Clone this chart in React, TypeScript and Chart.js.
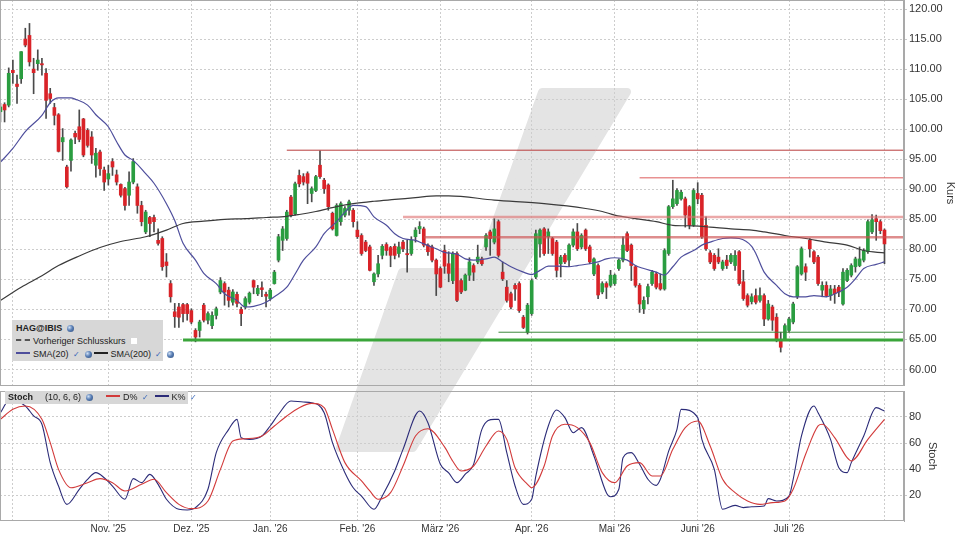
import { useEffect, useRef } from "react"
import { Chart, registerables } from "chart.js"

Chart.register(...registerables)

const FONT = "'Liberation Sans', Arial, sans-serif"

// daily candles, trading-day index 0 = 26.09.2025
const opens = [
  102.9, 104.1, 104.0, 109.8, 107.5, 108.4, 115.0, 115.6, 110.0, 110.9, 110.9, 109.3, 105.9, 103.6, 102.4, 97.9, 93.7, 94.8, 99.3, 100.4,
  101.7, 99.8, 98.7, 94.0, 96.2, 93.2, 91.7, 94.6, 92.4, 90.8, 90.1, 89.0, 91.2, 90.4, 87.3, 82.9, 85.3, 85.3, 81.5, 81.8,
  77.9, 74.3, 69.6, 70.4, 70.8, 70.8, 69.8, 66.5, 66.5, 70.7, 68.2, 67.3, 69.0, 72.9, 74.3, 73.2, 71.2, 72.5, 70.0, 70.4,
  71.2, 74.8, 72.6, 73.6, 72.5, 71.8, 74.3, 78.2, 81.5, 81.8, 88.7, 85.9, 92.3, 92.1, 92.6, 89.3, 89.8, 94.0, 91.5, 90.7,
  86.0, 82.3, 84.6, 85.7, 86.5, 86.5, 83.2, 82.3, 81.2, 80.4, 74.6, 75.9, 79.0, 80.8, 80.3, 80.5, 79.3, 81.2, 79.3, 79.3,
  82.1, 83.4, 83.4, 80.7, 80.4, 78.2, 76.8, 79.8, 77.6, 74.8, 79.3, 74.8, 73.2, 75.7, 77.3, 77.9, 78.4, 80.4, 82.9, 81.2,
  84.6, 76.2, 73.7, 72.6, 74.0, 74.3, 68.7, 66.2, 69.3, 75.4, 80.9, 83.4, 82.1, 81.8, 81.2, 77.6, 79.0, 78.2, 80.7, 82.9,
  80.4, 83.2, 80.4, 75.9, 77.3, 72.9, 74.3, 74.0, 74.3, 76.8, 78.2, 82.6, 80.7, 77.1, 74.0, 70.1, 72.1, 74.3, 75.9, 74.3,
  73.4, 79.3, 87.1, 87.6, 88.4, 88.4, 87.1, 84.0, 89.3, 89.0, 84.0, 79.4, 79.0, 78.7, 76.8, 78.2, 77.9, 77.3, 79.6, 74.6,
  72.3, 71.3, 72.3, 71.5, 72.3, 68.4, 70.4, 68.7, 64.8, 65.1, 66.5, 67.9, 72.1, 75.9, 77.1, 81.5, 79.6, 78.7, 73.2, 74.0,
  72.3, 73.4, 73.7, 70.9, 74.8, 75.7, 77.1, 77.3, 78.2, 79.6, 82.9, 85.1, 84.6, 83.2,
]
const highs = [
  104.3, 104.4, 110.2, 111.5, 109.0, 112.9, 116.8, 117.6, 111.8, 113.2, 111.8, 110.1, 106.8, 104.3, 102.6, 100.1, 94.0, 98.4, 99.7, 103.2,
  101.8, 100.1, 99.6, 96.8, 96.5, 93.7, 94.0, 95.1, 93.2, 90.9, 90.3, 92.9, 95.1, 90.9, 88.0, 86.5, 85.5, 85.7, 83.4, 82.1,
  79.3, 74.8, 71.0, 71.0, 71.0, 71.0, 70.1, 66.8, 68.2, 71.0, 69.6, 69.6, 70.4, 75.3, 74.6, 73.7, 73.3, 72.9, 70.4, 72.1,
  72.9, 74.9, 74.0, 74.6, 72.9, 73.5, 76.5, 82.5, 83.8, 86.5, 89.0, 91.2, 93.2, 92.6, 92.9, 90.4, 92.3, 96.4, 91.8, 90.9,
  86.2, 87.6, 87.9, 87.1, 88.2, 86.8, 84.6, 82.6, 81.5, 80.7, 76.1, 79.0, 80.8, 81.1, 80.5, 80.9, 81.2, 81.5, 81.5, 82.1,
  83.6, 84.6, 83.7, 80.9, 80.7, 78.4, 77.1, 80.7, 79.6, 79.6, 79.6, 75.1, 75.9, 78.6, 77.6, 80.7, 78.7, 82.6, 83.2, 85.1,
  84.9, 77.9, 74.8, 72.9, 74.3, 74.6, 69.0, 71.0, 75.1, 83.2, 83.4, 83.6, 83.4, 82.0, 81.5, 79.0, 79.3, 80.9, 83.4, 84.3,
  82.6, 83.4, 80.7, 78.6, 77.6, 74.6, 74.6, 76.5, 75.9, 78.4, 82.1, 82.9, 80.9, 77.3, 74.3, 72.1, 74.2, 76.5, 76.2, 75.9,
  80.1, 87.3, 91.5, 90.1, 89.8, 88.7, 87.3, 90.1, 91.1, 89.3, 85.4, 79.8, 79.3, 80.1, 78.2, 79.0, 79.3, 79.8, 79.8, 76.5,
  72.6, 72.6, 73.4, 73.6, 72.6, 71.5, 70.7, 69.3, 66.2, 67.6, 68.7, 71.2, 77.3, 80.4, 77.6, 81.8, 79.8, 79.0, 74.6, 74.6,
  74.0, 74.0, 74.0, 76.8, 76.8, 77.6, 78.7, 80.4, 80.1, 84.9, 85.8, 85.7, 84.9, 83.4,
]
const lows = [
  101.2, 101.2, 103.7, 107.6, 104.3, 107.6, 113.7, 110.5, 105.9, 109.8, 109.0, 101.8, 104.3, 100.7, 96.2, 94.8, 90.2, 93.0, 97.6, 97.9,
  95.4, 97.0, 94.3, 92.0, 92.3, 89.8, 90.7, 92.3, 90.7, 88.7, 86.5, 87.3, 90.9, 86.0, 83.9, 82.6, 82.1, 82.9, 80.7, 76.5,
  75.4, 71.2, 67.0, 67.0, 67.9, 68.2, 67.6, 64.6, 65.4, 67.9, 67.6, 66.8, 68.4, 72.6, 70.7, 70.4, 70.7, 70.4, 67.3, 70.1,
  70.9, 72.6, 72.3, 72.1, 70.4, 71.5, 74.2, 77.9, 79.8, 81.5, 85.4, 85.7, 90.4, 90.7, 87.6, 87.9, 89.6, 91.8, 89.3, 86.5,
  83.2, 82.2, 84.0, 85.4, 85.7, 83.7, 81.8, 79.0, 79.6, 76.4, 74.0, 75.4, 78.4, 79.0, 77.1, 78.4, 78.7, 79.6, 76.2, 79.0,
  81.2, 82.6, 80.4, 79.0, 77.9, 72.3, 73.6, 76.0, 74.6, 74.3, 71.3, 72.6, 73.1, 74.8, 74.8, 77.6, 77.3, 79.8, 79.0, 80.9,
  78.7, 74.8, 71.2, 70.1, 71.5, 69.5, 66.8, 65.9, 69.0, 75.1, 78.7, 79.0, 79.3, 79.0, 75.4, 75.4, 77.6, 77.1, 80.4, 79.8,
  80.1, 79.8, 77.6, 75.6, 71.8, 72.6, 71.8, 73.7, 74.0, 76.5, 77.9, 79.6, 74.8, 73.7, 69.5, 69.3, 70.9, 74.0, 73.4, 73.2,
  73.2, 79.0, 86.8, 87.3, 88.2, 83.7, 83.4, 83.8, 87.6, 81.8, 79.8, 77.6, 76.5, 77.6, 76.5, 76.8, 77.6, 76.5, 74.0, 71.5,
  70.4, 70.9, 70.9, 71.2, 67.3, 68.2, 66.5, 64.6, 62.9, 64.8, 66.2, 67.6, 71.8, 75.7, 74.8, 78.7, 77.6, 74.0, 72.1, 72.1,
  71.5, 71.0, 72.1, 70.7, 74.6, 75.4, 76.2, 77.1, 77.9, 79.3, 82.6, 81.5, 82.6, 77.6,
]
const closes = [
  103.7, 103.2, 109.3, 109.4, 107.1, 112.9, 114.0, 111.2, 109.4, 111.5, 110.7, 104.8, 105.1, 102.3, 96.3, 98.6, 90.4, 98.2, 98.7, 98.3,
  95.7, 97.3, 95.7, 96.0, 93.4, 91.2, 92.6, 93.7, 91.2, 89.0, 87.3, 91.2, 94.6, 87.3, 84.6, 86.2, 84.3, 84.6, 81.0, 77.1,
  77.3, 72.1, 68.8, 68.7, 69.3, 69.3, 67.9, 65.4, 67.9, 68.2, 69.3, 69.0, 70.1, 74.8, 72.9, 71.5, 72.9, 71.0, 69.3, 71.8,
  72.7, 73.7, 73.5, 73.3, 72.2, 73.2, 76.2, 82.1, 83.4, 86.2, 85.7, 90.9, 90.9, 91.2, 91.0, 90.1, 92.1, 92.1, 90.1, 87.1,
  83.4, 87.3, 87.6, 86.8, 87.9, 84.6, 82.1, 79.3, 79.8, 76.5, 75.9, 77.6, 80.5, 79.8, 79.0, 79.0, 80.4, 80.1, 79.1, 81.5,
  83.2, 83.8, 80.7, 79.6, 78.2, 75.9, 73.7, 77.2, 76.0, 79.3, 71.5, 72.9, 75.7, 77.9, 76.2, 78.7, 77.6, 82.3, 81.8, 83.4,
  79.0, 75.1, 71.5, 70.4, 73.4, 69.8, 67.0, 70.7, 74.8, 82.6, 83.2, 79.3, 82.9, 79.3, 76.5, 78.7, 77.9, 80.7, 82.9, 80.1,
  82.3, 80.1, 77.9, 78.4, 72.4, 74.3, 73.7, 75.7, 75.7, 78.2, 80.7, 79.8, 77.3, 74.0, 70.9, 71.5, 73.8, 76.2, 73.7, 73.4,
  79.8, 87.1, 88.4, 89.8, 89.5, 85.7, 84.0, 89.8, 88.4, 82.1, 80.1, 77.9, 76.8, 77.9, 77.9, 77.3, 79.0, 79.0, 74.3, 71.8,
  70.7, 72.1, 71.2, 72.3, 68.4, 70.9, 68.2, 64.8, 63.7, 67.3, 68.4, 70.9, 77.1, 80.1, 76.2, 80.1, 77.9, 74.3, 74.0, 72.3,
  73.4, 72.6, 72.9, 76.2, 76.5, 77.3, 78.4, 78.4, 79.8, 84.6, 84.9, 84.6, 83.1, 80.9,
]

// moving averages, read at sample days
const sma20Idx = [
  0, 3, 6, 10, 12, 14, 17, 18, 21, 23, 26, 28, 30, 32, 35, 37, 40, 42, 44, 47, 49, 52, 54, 57, 59, 61, 64, 66, 69, 71,
  73, 76, 78, 81, 83, 85, 88, 90, 93, 95, 97, 100, 102, 105, 107, 110, 112, 114, 117, 119, 121, 123, 126, 128, 130, 132, 134, 137, 139, 142,
  144, 146, 148, 151, 153, 155, 158, 160, 162, 164, 167, 169, 171, 174, 176, 178, 181, 182, 184, 187, 189, 191, 194, 196, 199, 201, 204, 206, 208, 211, 213,
]
const sma20 = [
  94.5, 96.8, 99.6, 102.3, 104.4, 105.2, 105.2, 105.0, 104.0, 102.4, 100.4, 97.9, 95.7, 94.8, 92.6, 91.0, 87.6, 84.8, 81.0, 78.2,
  76.0, 74.3, 72.6, 71.5, 70.4, 70.5, 71.2, 72.1, 73.7, 75.9, 78.2, 80.4, 82.6, 84.6, 86.2, 87.3, 87.1, 85.4, 84.0, 82.6,
  81.8, 81.5, 80.9, 80.1, 79.5, 79.2, 78.4, 78.2, 78.4, 78.7, 77.9, 77.1, 76.2, 75.8, 76.5, 77.2, 77.2, 77.1, 77.3, 77.6,
  77.9, 78.4, 78.6, 78.2, 77.3, 76.8, 76.2, 75.7, 77.1, 78.7, 79.8, 80.7, 81.2, 81.8, 81.9, 81.8, 80.5, 79.3, 76.2, 74.0,
  72.6, 72.1, 72.1, 72.3, 72.1, 72.6, 73.7, 75.1, 76.8, 77.5, 77.9,
]
const sma200Idx = [
  0, 5, 10, 14, 19, 24, 29, 35, 40, 44, 49, 54, 59, 64, 69, 72, 76, 81, 85, 90, 95, 100, 105, 108, 119, 131, 141, 145, 148, 153,
  158, 162, 167, 171, 176, 181, 184, 189, 194, 199, 204, 208, 213,
]
const sma200 = [
  71.5, 73.7, 75.6, 77.3, 78.9, 80.3, 81.3, 82.1, 83.2, 84.3, 84.7, 85.0, 85.1, 85.3, 85.5, 85.8, 86.3, 87.1, 87.6, 88.0,
  88.3, 88.6, 88.9, 88.9, 88.2, 87.6, 86.8, 86.3, 85.7, 85.1, 84.6, 84.0, 83.9, 83.7, 83.4, 83.2, 82.9, 82.3, 81.8, 81.2,
  80.7, 79.8, 79.4,
]

// stochastic (10, 6, 6)
const kIdx = [
  0, 2, 3, 6, 8, 10, 12, 14, 16, 19, 21, 23, 25, 27, 30, 32, 34, 36, 38, 40, 43, 45, 47, 50, 52, 55, 57, 58, 60, 63,
  65, 67, 70, 73, 75, 78, 80, 83, 85, 87, 90, 92, 95, 97, 101, 103, 106, 108, 110, 112, 114, 116, 119, 120, 122, 124, 126, 128, 129, 132,
  134, 136, 138, 140, 143, 146, 147, 149, 150, 152, 154, 156, 158, 159, 161, 163, 164, 168, 169, 172, 174, 177, 179, 181, 184, 185, 187, 190, 191, 193,
  196, 197, 200, 202, 204, 205, 208, 211, 213,
]
const kVals = [
  83.3, 92.3, 92.3, 88.5, 80.8, 74.4, 44.9, 26.9, 12.8, 24.4, 32.1, 37.2, 33.3, 26.9, 16.7, 32.6, 29.5, 35.9, 28.2, 16.7,
  9.0, 8.5, 10.3, 24.4, 52.6, 70.5, 78.2, 64.1, 62.8, 65.4, 73.1, 82.1, 92.3, 91.5, 91.0, 83.3, 60.3, 37.2, 25.6, 19.2,
  9.0, 19.2, 38.5, 55.1, 84.6, 75.6, 43.6, 37.0, 29.5, 36.0, 43.6, 70.5, 78.2, 78.2, 52.6, 26.9, 12.8, 16.7, 34.6, 73.1,
  85.4, 79.5, 67.9, 71.8, 50.0, 21.8, 18.7, 24.4, 48.7, 52.6, 43.6, 32.1, 27.4, 32.1, 53.8, 70.5, 85.9, 79.5, 62.8, 39.7,
  9.0, 12.0, 10.3, 11.0, 11.5, 17.2, 15.4, 19.2, 32.1, 65.4, 88.5, 83.3, 62.8, 41.0, 37.2, 44.9, 65.4, 87.2, 84.6,
]
const dIdx = [
  0, 3, 6, 10, 12, 14, 17, 21, 24, 27, 30, 34, 37, 40, 43, 46, 50, 53, 56, 59, 63, 66, 69, 72, 75, 78, 80, 83, 87, 89,
  91, 94, 97, 100, 103, 107, 109, 111, 114, 117, 120, 122, 124, 127, 128, 131, 133, 136, 139, 142, 145, 148, 151, 154, 157, 159, 162, 165, 168, 171,
  174, 177, 180, 183, 186, 189, 191, 194, 197, 198, 201, 204, 205, 209, 213,
]
const dVals = [
  78.2, 85.9, 88.5, 78.2, 60.3, 39.7, 25.6, 29.5, 32.6, 29.5, 23.1, 28.2, 32.1, 21.8, 12.8, 9.5, 15.4, 39.7, 61.5, 63.3,
  65.4, 73.1, 80.8, 87.2, 90.5, 87.2, 70.5, 44.9, 30.8, 23.1, 16.7, 21.8, 42.3, 65.4, 71.0, 57.0, 46.0, 38.5, 42.3, 57.7,
  69.2, 62.8, 41.0, 28.2, 25.6, 42.3, 65.4, 74.4, 71.8, 60.3, 37.2, 29.5, 42.3, 44.9, 34.6, 34.6, 55.1, 71.8, 76.9, 57.7,
  32.1, 21.8, 15.4, 12.8, 14.1, 15.4, 24.4, 51.3, 73.1, 74.4, 64.1, 48.7, 46.2, 62.8, 78.2,
]

// support / resistance lines: price level and the day they start
const levelValues = [96.5, 91.9, 85.4, 82.0, 66.2, 64.9]
const levelStarts = [69, 154, 97, 102, 120, 44]
const levelColors = ["#b83c3c", "#dd5c5c", "rgba(222,110,110,0.6)", "rgba(205,80,80,0.65)", "#3d8a3d", "#3aa53a"]
const levelWidths = [1, 1, 2.5, 2.5, 1, 3]

const monthTicks = [3, 26, 46, 65, 86, 106, 128, 148, 168, 190, 213]
const monthLabels = ["", "Nov. '25", "Dez. '25", "Jan. '26", "Feb. '26", "März '26", "Apr. '26", "Mai '26", "Juni '26", "Juli '26", ""]
const priceTicks = [60, 65, 70, 75, 80, 85, 90, 95, 100, 105, 110, 115, 120]
const stochTicks = [20, 40, 60, 80]

const X_MIN = -0.1
const X_MAX = 217.7
const GRID = "#cdcdcd"
const UP = "#2a9d40"
const DOWN = "#d92328"

const framePlugin = {
  id: "frame",
  afterDraw(chart: any) {
    const { ctx, chartArea: a } = chart
    ctx.save()
    ctx.strokeStyle = "#a9a9a9"
    ctx.lineWidth = 1
    ctx.strokeRect(a.left + 0.5, a.top + 0.5, a.right - a.left - 1, a.bottom - a.top - 1)
    ctx.restore()
  },
}

function monthAxis(showLabels: boolean, height: number) {
  return {
    type: "linear" as const,
    min: X_MIN,
    max: X_MAX,
    offset: false,
    afterBuildTicks: (s: any) => {
      s.ticks = monthTicks.map((v) => ({ value: v }))
    },
    afterFit: (s: any) => {
      s.height = height
      s.paddingLeft = 0
      s.paddingRight = 0
    },
    grid: { color: GRID, drawTicks: false, offset: false },
    border: { display: false, dash: [2, 2] },
    ticks: {
      display: showLabels,
      autoSkip: false,
      maxRotation: 0,
      padding: 2,
      color: "#333",
      font: { size: 10 },
      callback: (_v: any, i: number) => monthLabels[i],
    },
  }
}

function rightAxis(min: number, max: number, ticks: number[], title: string, titlePad: number, fmt: (v: number) => string) {
  return {
    type: "linear" as const,
    position: "right" as const,
    min,
    max,
    afterBuildTicks: (s: any) => {
      s.ticks = ticks.map((v) => ({ value: v }))
    },
    afterFit: (s: any) => {
      s.width = 56
      s.paddingTop = 0
      s.paddingBottom = 0
    },
    grid: { color: GRID, drawTicks: true, tickLength: 3, tickColor: "#c8c8c8" },
    border: { display: true, color: "#a9a9a9", dash: [2, 2] },
    ticks: { padding: 2, color: "#333", font: { size: 11 }, callback: (v: any) => fmt(Number(v)) },
    title: { display: true, text: title, color: "#333", font: { size: 11 }, padding: { top: titlePad, bottom: 0 } },
  }
}

const Globe = () => (
  <span
    style={{
      display: "inline-block",
      width: 7,
      height: 7,
      borderRadius: "50%",
      background: "radial-gradient(circle at 35% 35%, #cfe0f5 0%, #5a7fb5 45%, #2c4a7a 100%)",
      margin: "0 2px",
      verticalAlign: "-1px",
    }}
  />
)
const Check = () => <span style={{ color: "#3464b8", fontSize: 8, margin: "0 3px 0 4px" }}>✓</span>
const Swatch = ({ color, dashed }: { color: string; dashed?: boolean }) => (
  <span
    style={{
      display: "inline-block",
      width: 14,
      height: 0,
      borderTop: `2px ${dashed ? "dashed" : "solid"} ${color}`,
      marginRight: 3,
      verticalAlign: "3px",
    }}
  />
)

export default function App() {
  const mainRef = useRef<HTMLCanvasElement>(null)
  const stochRef = useRef<HTMLCanvasElement>(null)

  useEffect(() => {
    if (!mainRef.current || !stochRef.current) return
    Chart.defaults.font.family = FONT
    Chart.defaults.font.size = 11
    Chart.defaults.color = "#333"

    const levelSets = levelValues.map((v, i) => ({
      type: "line" as const,
      data: [
        { x: levelStarts[i], y: v },
        { x: X_MAX, y: v },
      ],
      borderColor: levelColors[i],
      borderWidth: levelWidths[i],
      pointRadius: 0,
      order: 1,
    }))

    const main = new Chart(mainRef.current, {
      type: "bar",
      data: {
        datasets: [
          {
            type: "bar",
            data: closes.map((_c, i) => ({ x: i, y: [lows[i], highs[i]] })) as any,
            backgroundColor: "#4a4a4a",
            barThickness: 1,
            grouped: false,
            order: 4,
          },
          {
            type: "bar",
            data: closes.map((c, i) => ({ x: i, y: [Math.min(opens[i], c), Math.max(opens[i], c)] })) as any,
            backgroundColor: closes.map((c, i) => (c >= opens[i] ? UP : DOWN)),
            barThickness: 3,
            grouped: false,
            order: 3,
          },
          ...levelSets,
          {
            type: "line",
            data: sma200Idx.map((x, i) => ({ x, y: sma200[i] })),
            borderColor: "#3a3a3a",
            borderWidth: 1.2,
            pointRadius: 0,
            cubicInterpolationMode: "monotone",
            order: 2,
          },
          {
            type: "line",
            data: sma20Idx.map((x, i) => ({ x, y: sma20[i] })),
            borderColor: "#4e4e9c",
            borderWidth: 1.2,
            pointRadius: 0,
            cubicInterpolationMode: "monotone",
            order: 2,
          },
        ] as any,
      },
      options: {
        responsive: false,
        animation: false,
        layout: { padding: 0 },
        plugins: { legend: { display: false }, tooltip: { enabled: false } },
        scales: {
          x: monthAxis(false, 0),
          y: rightAxis(57.25, 121.5, priceTicks, "Kurs", 3, (v) => v.toFixed(2)),
        } as any,
      },
      plugins: [framePlugin],
    })

    const stoch = new Chart(stochRef.current, {
      type: "line",
      data: {
        datasets: [
          {
            data: dIdx.map((x, i) => ({ x, y: dVals[i] })),
            borderColor: "#d23a3a",
            borderWidth: 1.1,
            pointRadius: 0,
            cubicInterpolationMode: "monotone",
          },
          {
            data: kIdx.map((x, i) => ({ x, y: kVals[i] })),
            borderColor: "#2b2b78",
            borderWidth: 1.1,
            pointRadius: 0,
            cubicInterpolationMode: "monotone",
          },
        ],
      },
      options: {
        responsive: false,
        animation: false,
        layout: { padding: { top: 5, left: 0, right: 0, bottom: 0 } },
        plugins: { legend: { display: false }, tooltip: { enabled: false } },
        scales: {
          x: monthAxis(true, 19),
          y: rightAxis(0, 100, stochTicks, "Stoch", 21.5, (v) => String(v)),
        } as any,
      },
      plugins: [framePlugin],
    })

    return () => {
      main.destroy()
      stoch.destroy()
    }
  }, [])

  const legendText = { fontFamily: FONT, fontSize: 9, color: "#222", lineHeight: "13px", whiteSpace: "nowrap" as const }

  return (
    <div style={{ position: "absolute", left: 0, top: 0, width: 960, height: 540, background: "#fff", overflow: "hidden" }}>
      <svg width={960} height={540} style={{ position: "absolute", left: 0, top: 0 }}>
        <polygon
          points="542,92 627,92 413,448 340,448 402,272 478,272"
          fill="#e4e4e4"
          stroke="#e4e4e4"
          strokeWidth={8}
          strokeLinejoin="round"
        />
      </svg>
      <canvas ref={mainRef} width={960} height={386} style={{ position: "absolute", left: 0, top: 0, display: "block" }} />
      <canvas ref={stochRef} width={960} height={154} style={{ position: "absolute", left: 0, top: 386, display: "block" }} />

      <div
        style={{
          position: "absolute",
          left: 12,
          top: 320,
          width: 151,
          height: 41,
          background: "#d7d7d7",
          padding: "2px 0 0 4px",
          boxSizing: "border-box",
          ...legendText,
        }}
      >
        <div>
          <b>HAG@IBIS</b>
          <span style={{ marginLeft: 3 }} />
          <Globe />
        </div>
        <div>
          <Swatch color="#555" dashed />
          Vorheriger Schlusskurs
          <span style={{ display: "inline-block", width: 6, height: 6, background: "#fff", marginLeft: 5 }} />
        </div>
        <div>
          <Swatch color="#4e4e9c" />
          SMA(20)
          <Check />
          <Globe />
          <Swatch color="#222" />
          SMA(200)
          <Check />
          <Globe />
        </div>
      </div>

      <div
        style={{
          position: "absolute",
          left: 5,
          top: 391,
          width: 183,
          height: 13,
          background: "#d7d7d7",
          padding: "0 0 0 3px",
          boxSizing: "border-box",
          ...legendText,
        }}
      >
        <b>Stoch</b>
        <span style={{ marginLeft: 12 }}>(10, 6, 6)</span>
        <span style={{ marginLeft: 3 }} />
        <Globe />
        <span style={{ marginLeft: 11 }} />
        <Swatch color="#d23a3a" />
        D%
        <Check />
        <span style={{ marginLeft: 3 }} />
        <Swatch color="#2b2b78" />
        K%
        <Check />
      </div>
    </div>
  )
}
